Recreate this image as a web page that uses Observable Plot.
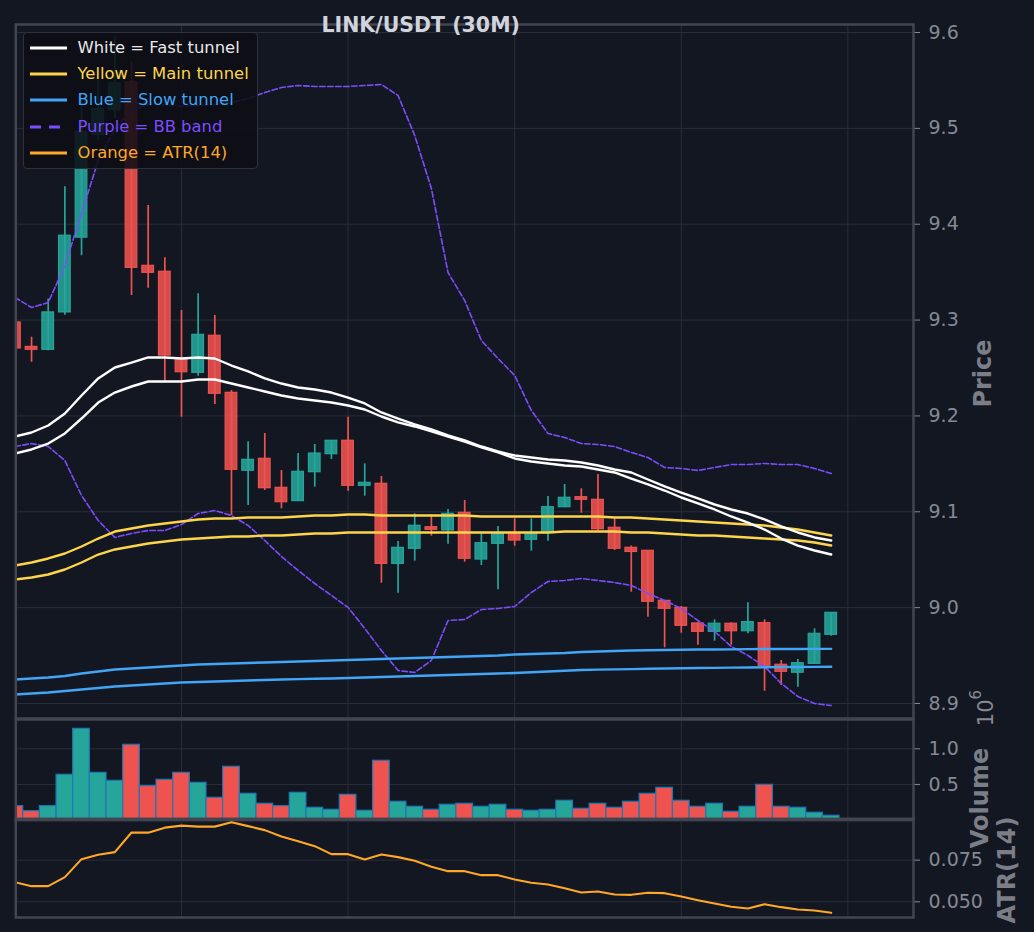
<!DOCTYPE html>
<html><head><meta charset="utf-8">
<script src="https://cdn.jsdelivr.net/npm/d3@7"></script>
<script src="https://cdn.jsdelivr.net/npm/@observablehq/plot@0.6"></script>
<style>
html,body{margin:0;padding:0;background:#131722;}
#wrap{position:relative;width:1034px;height:932px;background:#131722;overflow:hidden;font-family:"DejaVu Sans",sans-serif;}
#legend{position:absolute;left:22.5px;top:32px;width:235px;height:137px;box-sizing:border-box;background:rgba(12,14,20,0.88);border:1px solid #2e323d;border-radius:4px;z-index:5;}
#legend .row{position:absolute;left:0;height:20px;width:100%;}
#legend .row svg{position:absolute;left:5px;top:0;}
#legend .row span{position:absolute;left:54px;top:0;line-height:20px;font-size:16.4px;white-space:nowrap;font-family:"DejaVu Sans",sans-serif;}
</style></head><body><div id="wrap"></div>
<script>
// ---------- data ----------
const opens  = [9.2975,9.272,9.269,9.308,9.386,9.493,9.519,9.548,9.3566,9.3504,9.2596,9.245,9.2836,9.2241,9.1428,9.1553,9.125,9.1111,9.1413,9.1601,9.1741,9.1271,9.1292,9.0457,9.0614,9.0839,9.0805,9.0989,9.0502,9.0666,9.077,9.0708,9.0777,9.1048,9.1152,9.1125,9.0833,9.0624,9.0593,9.0071,8.9998,8.9835,8.9748,8.9832,8.9754,8.9838,8.9404,8.9321,8.9414,8.9717];
const highs  = [9.2985,9.282,9.322,9.439,9.53,9.55,9.595,9.569,9.4195,9.365,9.31,9.3274,9.3048,9.2265,9.173,9.1817,9.1431,9.1608,9.1702,9.1741,9.1987,9.15,9.1368,9.069,9.0979,9.0969,9.1024,9.1118,9.077,9.0847,9.0927,9.0927,9.116,9.1285,9.124,9.1389,9.0927,9.0643,9.0593,9.0071,9.0012,8.9842,8.9873,8.9842,9.0051,8.9873,8.9449,8.9459,8.9779,8.9946];
const lows   = [9.268,9.256,9.268,9.305,9.367,9.487,9.51,9.3256,9.3333,9.2349,9.1987,9.2415,9.2119,9.0961,9.1066,9.1222,9.1031,9.1111,9.1257,9.1546,9.1215,9.1163,9.0255,9.0151,9.0485,9.0746,9.0662,9.0474,9.044,9.0186,9.0641,9.0589,9.0693,9.1042,9.0985,9.0797,9.0596,9.0161,8.99,8.9581,8.9733,8.9608,8.965,8.9608,8.9727,8.9128,8.9188,8.917,8.9414,8.9702];
const closes = [9.2704,9.269,9.308,9.388,9.496,9.520,9.547,9.3545,9.3493,9.263,9.2456,9.2846,9.2231,9.1438,9.1542,9.1246,9.11,9.1417,9.1608,9.1741,9.1271,9.1302,9.0457,9.0624,9.0854,9.0812,9.0979,9.051,9.0672,9.077,9.07,9.077,9.1048,9.1146,9.1125,9.0818,9.0614,9.0581,9.0061,8.9988,8.9811,8.9748,8.9832,8.9754,8.9849,8.9394,8.9331,8.9421,8.9727,8.9946];
const volumes = [0.196,0.126,0.196,0.636,1.28,0.663,0.551,1.056,0.477,0.565,0.663,0.523,0.313,0.748,0.369,0.229,0.196,0.383,0.173,0.145,0.355,0.131,0.832,0.257,0.187,0.145,0.215,0.229,0.187,0.215,0.145,0.131,0.145,0.271,0.159,0.229,0.173,0.257,0.369,0.453,0.271,0.187,0.229,0.117,0.187,0.495,0.187,0.173,0.103,0.061].map(v => v * 1e6);
const atr14 = [0.0618,0.0594,0.0594,0.0648,0.0756,0.0782,0.0798,0.0916,0.0915,0.0945,0.0957,0.0951,0.0951,0.0977,0.0954,0.0930,0.0892,0.0864,0.0834,0.0786,0.0786,0.0754,0.0784,0.0768,0.0746,0.0710,0.0684,0.0684,0.0660,0.0660,0.0634,0.0614,0.0604,0.0582,0.0556,0.0562,0.0544,0.0542,0.0554,0.0552,0.0532,0.0510,0.0490,0.0470,0.0460,0.0486,0.0468,0.0454,0.0448,0.0434];
const fastUpper = [9.1785,9.1827,9.1900,9.2025,9.2213,9.2391,9.2505,9.2557,9.2610,9.2610,9.2599,9.2610,9.2599,9.2526,9.2464,9.2391,9.2338,9.2297,9.2276,9.2244,9.2192,9.2130,9.2036,9.1973,9.1911,9.1859,9.1796,9.1744,9.1681,9.1629,9.1587,9.1566,9.1546,9.1535,9.1514,9.1483,9.1441,9.1410,9.1337,9.1264,9.1201,9.1139,9.1076,9.1024,9.0982,9.0920,9.0847,9.0784,9.0732,9.0700];
const fastLower = [9.1608,9.1650,9.1712,9.1817,9.1973,9.2140,9.2244,9.2307,9.2359,9.2359,9.2359,9.2380,9.2380,9.2338,9.2297,9.2255,9.2213,9.2182,9.2161,9.2140,9.2109,9.2067,9.1994,9.1932,9.1890,9.1838,9.1785,9.1733,9.1671,9.1619,9.1556,9.1525,9.1504,9.1483,9.1473,9.1441,9.1410,9.1347,9.1285,9.1222,9.1149,9.1087,9.1024,9.0951,9.0888,9.0815,9.0721,9.0648,9.0596,9.0554];
const mainUpper = [9.0440,9.0471,9.0513,9.0565,9.0638,9.0721,9.0794,9.0826,9.0857,9.0878,9.0899,9.0920,9.0930,9.0930,9.0940,9.0940,9.0940,9.0951,9.0961,9.0961,9.0972,9.0972,9.0961,9.0961,9.0961,9.0961,9.0961,9.0961,9.0951,9.0951,9.0951,9.0951,9.0951,9.0951,9.0951,9.0951,9.0940,9.0940,9.0930,9.0920,9.0909,9.0899,9.0888,9.0878,9.0867,9.0857,9.0836,9.0815,9.0784,9.0753];
const mainLower = [9.0294,9.0315,9.0346,9.0398,9.0471,9.0554,9.0607,9.0638,9.0669,9.0690,9.0711,9.0721,9.0732,9.0742,9.0742,9.0753,9.0753,9.0763,9.0774,9.0774,9.0784,9.0784,9.0784,9.0784,9.0784,9.0784,9.0784,9.0784,9.0784,9.0784,9.0784,9.0784,9.0784,9.0794,9.0794,9.0794,9.0794,9.0784,9.0784,9.0774,9.0763,9.0753,9.0753,9.0742,9.0732,9.0721,9.0711,9.0700,9.0680,9.0648];
const slowUpper = [8.9250,8.9261,8.9271,8.9287,8.9313,8.9334,8.9355,8.9365,8.9376,8.9386,8.9397,8.9407,8.9412,8.9418,8.9423,8.9428,8.9433,8.9438,8.9444,8.9449,8.9454,8.9459,8.9464,8.9470,8.9475,8.9480,8.9485,8.9490,8.9496,8.9501,8.9511,8.9516,8.9522,8.9527,8.9537,8.9542,8.9548,8.9553,8.9555,8.9558,8.9560,8.9563,8.9564,8.9565,8.9567,8.9568,8.9569,8.9569,8.9570,8.9570];
const slowLower = [8.9094,8.9104,8.9115,8.9130,8.9146,8.9162,8.9177,8.9188,8.9198,8.9209,8.9219,8.9224,8.9230,8.9235,8.9240,8.9245,8.9250,8.9254,8.9258,8.9261,8.9266,8.9271,8.9276,8.9282,8.9287,8.9292,8.9297,8.9303,8.9308,8.9313,8.9318,8.9326,8.9334,8.9341,8.9349,8.9353,8.9356,8.9359,8.9362,8.9365,8.9367,8.9370,8.9372,8.9374,8.9376,8.9378,8.9380,8.9381,8.9382,8.9383];
const bbUpper = [9.3236,9.3131,9.3183,9.3569,9.4112,9.4665,9.4999,9.5186,9.5249,9.5249,9.5228,9.5238,9.5249,9.5270,9.5312,9.5374,9.5426,9.5447,9.5437,9.5437,9.5437,9.5447,9.5458,9.5343,9.4926,9.4373,9.3496,9.3204,9.2787,9.2599,9.2422,9.2057,9.1817,9.1775,9.1712,9.1702,9.1681,9.1619,9.1566,9.1462,9.1452,9.1431,9.1462,9.1493,9.1493,9.1504,9.1493,9.1493,9.1452,9.1400];
const bbLower = [9.1681,9.1712,9.1681,9.1535,9.1170,9.0909,9.0732,9.0774,9.0805,9.0805,9.0867,9.0982,9.1013,9.0961,9.0857,9.0700,9.0534,9.0388,9.0252,9.0127,9.0002,8.9783,8.9553,8.9344,8.9324,8.9449,8.9866,8.9876,8.9981,8.9991,9.0012,9.0158,9.0273,9.0283,9.0304,9.0283,9.0262,9.0231,9.0148,9.0075,8.9991,8.9866,8.9751,8.9595,8.9501,8.9386,8.9209,8.9073,8.9000,8.8979];
const priceTicks = [8.9, 9.0, 9.1, 9.2, 9.3, 9.4, 9.5, 9.6];
const volumeTicks = [0.5e6, 1.0e6];
const atrTicks = [0.050, 0.075];
const timeGrid = [10, 20, 30, 40, 50];
const legendItems = [
  {label: "White = Fast tunnel", color: "#ffffff", text: "#e8e8e8", dash: null},
  {label: "Yellow = Main tunnel", color: "#fdd54a", text: "#fdd54a", dash: null},
  {label: "Blue = Slow tunnel", color: "#42a5f5", text: "#42a5f5", dash: null},
  {label: "Purple = BB band", color: "#7c4dff", text: "#7c4dff", dash: "11,8"},
  {label: "Orange = ATR(14)", color: "#ffa726", text: "#ffa726", dash: null}
];

// ---------- build ----------
const UP = "#26a69a", DOWN = "#ef5350", GRID = "#2a2e39", SPINE = "#434651", TXT = "#868992";
const YEL = "#fdd54a";
const idx = d3.range(opens.length);
const candles = idx.map(i => ({i, open: opens[i], high: highs[i], low: lows[i], close: closes[i], volume: volumes[i], atr: atr14[i]}));
const col = d => d.close >= d.open ? UP : DOWN;
const xDomain = [0.054, 53.94];
const wrap = document.getElementById("wrap");
const baseStyle = {background: "transparent", color: TXT, fontSize: "19px", fontFamily: "DejaVu Sans, sans-serif", overflow: "visible"};
function place(el, top) { el.style.position = "absolute"; el.style.left = "0px"; el.style.top = top + "px"; wrap.appendChild(el); }
const mLeft = 15.3, mRight = 121;
const LW = 2.4;

const pricePlot = Plot.plot({
  width: 1034, height: 720, marginLeft: mLeft, marginRight: mRight, marginTop: 24, marginBottom: 2,
  style: baseStyle,
  x: {domain: xDomain, axis: null},
  y: {domain: [8.88435, 9.60835]},
  color: {type: "identity"},
  marks: [
    Plot.ruleY(priceTicks, {stroke: GRID, strokeWidth: 1}),
    Plot.ruleX(timeGrid, {stroke: GRID, strokeWidth: 1}),
    Plot.ruleX(candles, {x: "i", y1: "low", y2: "high", stroke: col, strokeWidth: 1.7, clip: true}),
    Plot.rect(candles, {x1: d => d.i - 0.35, x2: d => d.i + 0.35, y1: "open", y2: "close", fill: col, fillOpacity: 0.88, stroke: col, strokeWidth: 1.2, clip: true}),
    Plot.line(idx, {x: i => i, y: i => bbUpper[i], stroke: "#7c4dff", strokeWidth: 1.6, strokeDasharray: "5.5,2.5", clip: true}),
    Plot.line(idx, {x: i => i, y: i => bbLower[i], stroke: "#7c4dff", strokeWidth: 1.6, strokeDasharray: "5.5,2.5", clip: true}),
    Plot.line(idx, {x: i => i, y: i => slowUpper[i], stroke: "#42a5f5", strokeWidth: LW, clip: true}),
    Plot.line(idx, {x: i => i, y: i => slowLower[i], stroke: "#42a5f5", strokeWidth: LW, clip: true}),
    Plot.line(idx, {x: i => i, y: i => mainUpper[i], stroke: YEL, strokeWidth: LW, clip: true}),
    Plot.line(idx, {x: i => i, y: i => mainLower[i], stroke: YEL, strokeWidth: LW, clip: true}),
    Plot.line(idx, {x: i => i, y: i => fastUpper[i], stroke: "#ffffff", strokeWidth: LW, clip: true}),
    Plot.line(idx, {x: i => i, y: i => fastLower[i], stroke: "#ffffff", strokeWidth: LW, clip: true}),
    Plot.axisY(priceTicks, {anchor: "right", tickSize: 6, tickPadding: 9, tickFormat: d => d.toFixed(1), label: null}),
    Plot.frame({stroke: SPINE, strokeWidth: 2.5})
  ]
});
place(pricePlot, 0);

const volPlot = Plot.plot({
  width: 1034, height: 140, marginLeft: mLeft, marginRight: mRight, marginTop: 19, marginBottom: 20.4,
  style: baseStyle,
  x: {domain: xDomain, axis: null},
  y: {domain: [0, 1.411e6]},
  color: {type: "identity"},
  marks: [
    Plot.ruleY(volumeTicks, {stroke: GRID, strokeWidth: 1}),
    Plot.ruleX(timeGrid, {stroke: GRID, strokeWidth: 1}),
    Plot.rectY(candles, {x1: d => d.i - 0.5, x2: d => d.i + 0.5, y: "volume", fill: col, stroke: "#1f77b4", strokeWidth: 1.2, clip: true}),
    Plot.axisY(volumeTicks, {anchor: "right", tickSize: 6, tickPadding: 9, tickFormat: d => (d / 1e6).toFixed(1), label: null}),
    Plot.frame({stroke: SPINE, strokeWidth: 2.5})
  ]
});
place(volPlot, 700);

const atrPlot = Plot.plot({
  width: 1034, height: 132, marginLeft: mLeft, marginRight: mRight, marginTop: 18.3, marginBottom: 15,
  style: baseStyle,
  x: {domain: xDomain, axis: null},
  y: {domain: [0.0406, 0.0998]},
  marks: [
    Plot.ruleY(atrTicks, {stroke: GRID, strokeWidth: 1}),
    Plot.ruleX(timeGrid, {stroke: GRID, strokeWidth: 1}),
    Plot.line(candles, {x: "i", y: "atr", stroke: "#ffa726", strokeWidth: 2.1, clip: true}),
    Plot.axisY(atrTicks, {anchor: "right", tickSize: 6, tickPadding: 9, tickFormat: d => d.toFixed(3), label: null}),
    Plot.frame({stroke: SPINE, strokeWidth: 2.5})
  ]
});
place(atrPlot, 800);

// ---------- overlay texts ----------
const ov = d3.create("svg").attr("width", 1034).attr("height", 932)
  .style("position", "absolute").style("left", "0px").style("top", "0px").style("z-index", 6)
  .style("font-family", "DejaVu Sans, sans-serif");
ov.append("text").attr("x", 420.7).attr("y", 31.5).attr("text-anchor", "middle")
  .attr("font-size", 20.5).attr("font-weight", "bold").attr("fill", "#d1d4dc").text("LINK/USDT (30M)");
const axisLabel = (x, y, t) => ov.append("text").attr("transform", `translate(${x},${y}) rotate(-90)`)
  .attr("text-anchor", "middle").attr("dominant-baseline", "central")
  .attr("font-size", 24).attr("font-weight", "bold").attr("fill", "#7b7e87").text(t);
axisLabel(982.5, 373.5, "Price");
axisLabel(980, 798, "Volume");
axisLabel(1007, 870, "ATR(14)");
const off = ov.append("text").attr("transform", "translate(986,708) rotate(-90)")
  .attr("text-anchor", "middle").attr("dominant-baseline", "central")
  .attr("font-size", 21).attr("fill", TXT);
off.append("tspan").text("10");
off.append("tspan").attr("font-size", 15).attr("dy", -10).text("6");
wrap.appendChild(ov.node());

// ---------- legend ----------
const leg = document.createElement("div");
leg.id = "legend";
const rowY = [46.7, 72.7, 99.3, 125.7, 151.7];
legendItems.forEach((it, k) => {
  const row = document.createElement("div");
  row.className = "row";
  row.style.top = (rowY[k] - 32 - 10) + "px";
  const s = d3.create("svg").attr("width", 40).attr("height", 20);
  s.append("line").attr("x1", 1).attr("x2", 38).attr("y1", 10).attr("y2", 10)
    .attr("stroke", it.color).attr("stroke-width", 3)
    .attr("stroke-dasharray", it.dash);
  row.appendChild(s.node());
  const sp = document.createElement("span");
  sp.textContent = it.label;
  sp.style.color = it.text;
  row.appendChild(sp);
  leg.appendChild(row);
});
wrap.appendChild(leg);
</script></body></html>
